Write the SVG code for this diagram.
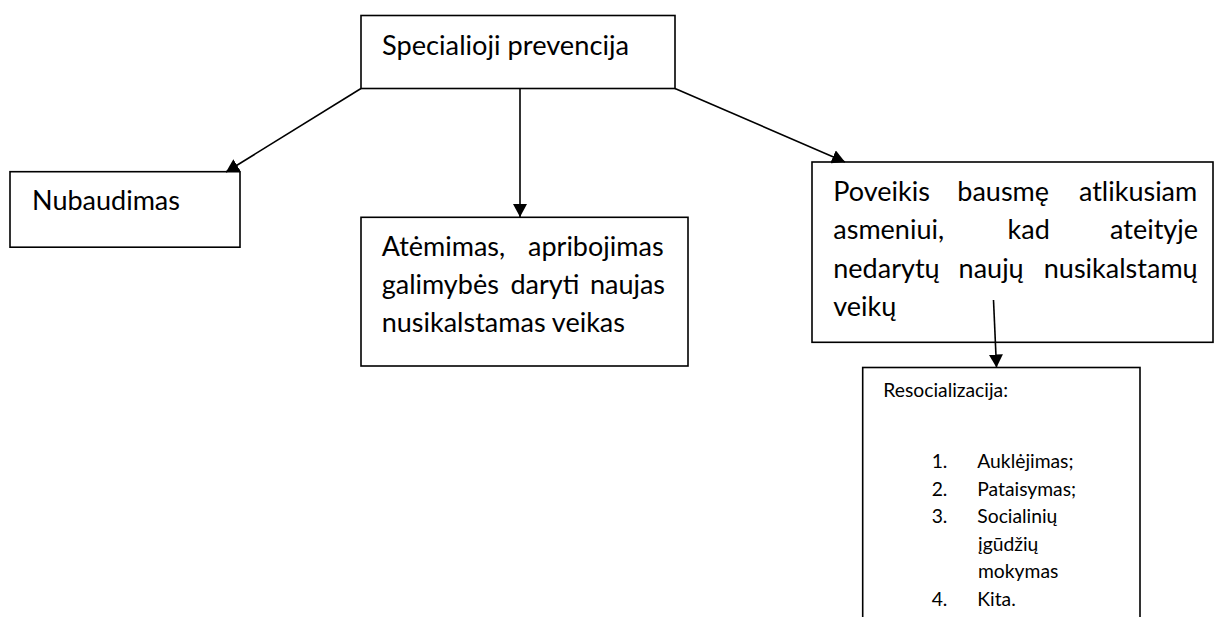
<svg xmlns="http://www.w3.org/2000/svg" width="1216" height="617" viewBox="0 0 1216 617">
<style>
.box{fill:#fff;stroke:#000;stroke-width:1.6}
.t{font-family:Lato,"Open Sans","DejaVu Sans",sans-serif;font-size:27px;fill:#000}
.s{font-family:Lato,"Open Sans","DejaVu Sans",sans-serif;font-size:19.3px;fill:#000}
.c{stroke:#000;stroke-width:1.6;fill:none;marker-end:url(#ah)}
</style>
<defs>
<marker id="ah" markerUnits="userSpaceOnUse" markerWidth="14" markerHeight="14" viewBox="0 0 14 14" refX="13" refY="7" orient="auto"><path d="M0,0 L13,7 L0,14 z" fill="#000"/></marker>
</defs>
<rect width="1216" height="617" fill="#fff"/>
<g id="node-top">
<rect class="box" x="361" y="15.5" width="314" height="73"/>
<text class="t" x="382" y="54.5" textLength="247" lengthAdjust="spacingAndGlyphs">Specialioji prevencija</text>
</g>
<g id="node-nubaudimas">
<rect class="box" x="10" y="171.7" width="230" height="75.5"/>
<text class="t" x="32" y="210" textLength="148" lengthAdjust="spacingAndGlyphs">Nubaudimas</text>
</g>
<g id="node-atemimas">
<rect class="box" x="361" y="217.3" width="327" height="148.7"/>
<text class="t" y="255.8"><tspan x="381.7">Atėmimas,</tspan><tspan x="528">apribojimas</tspan></text>
<text class="t" y="294.1"><tspan x="381.7">galimybės</tspan><tspan x="510.5">daryti</tspan><tspan x="589.9">naujas</tspan></text>
<text class="t" x="381.7" y="332.4">nusikalstamas veikas</text>
</g>
<g id="node-poveikis">
<rect class="box" x="812" y="162" width="401" height="180.3"/>
<text class="t" y="201"><tspan x="833.3">Poveikis</tspan><tspan x="957.3">bausmę</tspan><tspan x="1078.9">atlikusiam</tspan></text>
<text class="t" y="239.3"><tspan x="833.3">asmeniui,</tspan><tspan x="1007.5">kad</tspan><tspan x="1110.1">ateityje</tspan></text>
<text class="t" y="277.6"><tspan x="833.3">nedarytų</tspan><tspan x="958.6">naujų</tspan><tspan x="1043.8">nusikalstamų</tspan></text>
<text class="t" x="833.3" y="315.9">veikų</text>
</g>
<g id="node-resocializacija">
<rect class="box" x="862.7" y="367.5" width="277.3" height="270"/>
<text class="s" x="883.3" y="397">Resocializacija:</text>
<text class="s" x="931.7" y="468">1.</text><text class="s" x="977.3" y="468">Auklėjimas;</text>
<text class="s" x="931.7" y="495.6">2.</text><text class="s" x="977.3" y="495.6">Pataisymas;</text>
<text class="s" x="931.7" y="523.2">3.</text><text class="s" x="977.3" y="523.2">Socialinių</text>
<text class="s" x="978" y="550.8">įgūdžių</text>
<text class="s" x="978" y="578.4">mokymas</text>
<text class="s" x="931.7" y="606">4.</text><text class="s" x="977.3" y="606">Kita.</text>
</g>
<g id="connectors">
<line class="c" x1="361" y1="88.5" x2="226" y2="172"/>
<line class="c" x1="520" y1="88.5" x2="520" y2="217"/>
<line class="c" x1="675" y1="88.5" x2="845" y2="162"/>
<line class="c" x1="993.5" y1="300" x2="996.5" y2="367.5"/>
</g>
</svg>
